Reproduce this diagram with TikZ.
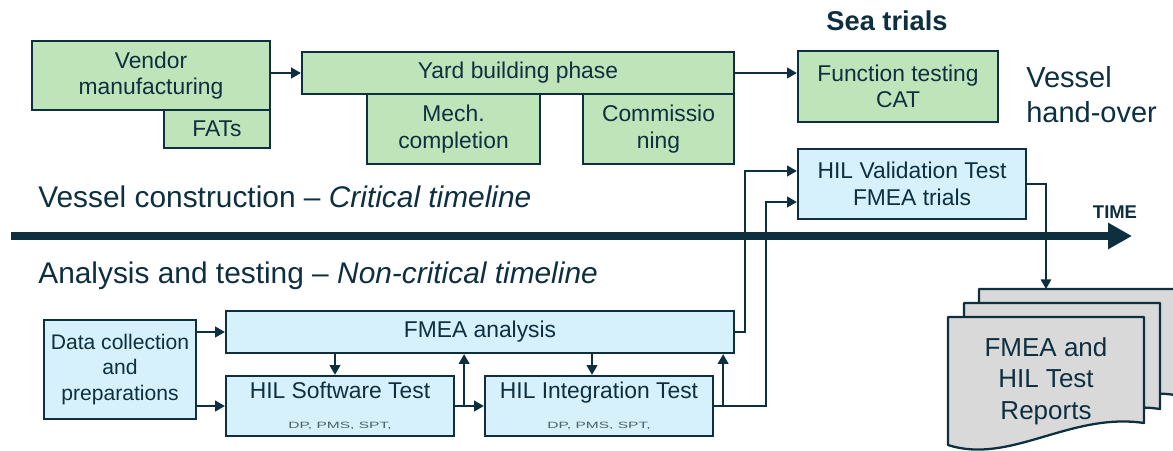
\documentclass[tikz,border=0pt]{standalone}
\usepackage{fontspec}
\setmainfont{Liberation Sans}
\newfontfamily\dpfont[FakeStretch=1.7]{Liberation Sans}
\usepackage{tikz}
\usetikzlibrary{arrows.meta,calc}
\definecolor{navy}{RGB}{13,47,64}
\definecolor{gfill}{RGB}{192,228,186}
\definecolor{bfill}{RGB}{214,240,252}
\definecolor{dfill}{RGB}{217,217,217}
\newcommand\boxtxt{\fontsize{13}{15}\selectfont}
\newcommand\dptxt{\dpfont\fontsize{5.2}{6}\selectfont\color{navy!75}}
\tikzset{%
  gbox/.style={draw=navy,fill=gfill,line width=1.3pt,inner sep=0,align=center,text=navy,font=\boxtxt},
  bbox/.style={gbox,fill=bfill},
  docpage/.style={draw=navy,fill=dfill,line width=1.3pt,line join=round},
  conn/.style={draw=navy,line width=1.1pt,-{Triangle[length=5.5pt,width=6pt]}},
  tline/.style={draw=navy,line width=4.8pt,-{Triangle[length=0.48cm,width=0.5cm]}},
  bigtxt/.style={anchor=base west,inner sep=0,text=navy,font=\fontsize{17}{20}\selectfont},
  headtxt/.style={inner sep=0,text=navy,align=left}
}

\begin{document}
\begin{tikzpicture}[x=0.02cm,y=-0.02cm]
    \useasboundingbox (0,0) rectangle (1173,450);
    \coordinate (tstart) at (11,236);
    \coordinate (tend) at (1132,236);
    \draw[tline] (tstart) -- (tend);
    \path
      (151,75.5) node (vendor)[gbox,minimum width=4.76cm,minimum height=1.38cm]{Vendor\\manufacturing}
      (217,129) node (fats)[gbox,minimum width=2.12cm,minimum height=0.76cm]{FATs}
      (518,73) node (yard)[gbox,minimum width=8.64cm,minimum height=0.84cm]{Yard building phase}
      (453.5,129) node (mech)[gbox,minimum width=3.46cm,minimum height=1.4cm]{Mech.\\completion}
      (658.5,129) node (comm)[gbox,minimum width=3.02cm,minimum height=1.4cm]{Commissio\\ning}
      (898,86.5) node (func)[gbox,minimum width=4cm,minimum height=1.42cm]{Function testing\\CAT}
      (912,184) node (valid)[bbox,minimum width=4.56cm,minimum height=1.4cm]{HIL Validation Test\\FMEA trials}
      (120,369.5) node (data)[bbox,minimum width=3.04cm,minimum height=1.98cm,font=\fontsize{12}{14.5}\selectfont]{Data collection\\and\\preparations}
      (480,332) node (fmea)[bbox,minimum width=10.16cm,minimum height=0.84cm]{FMEA analysis}
      (340,406) node (sw)[bbox,minimum width=4.56cm,minimum height=1.2cm]{HIL Software Test\\[2pt]{\dptxt DP, PMS, SPT,}}
      (599,406) node (int)[bbox,minimum width=4.56cm,minimum height=1.2cm]{HIL Integration Test\\[2pt]{\dptxt DP, PMS, SPT,}};
    \path
      (887,21) node (sea)[headtxt,font=\fontsize{15.5}{18}\selectfont\bfseries]{Sea trials}
      (1026,94.5) node (handover)[headtxt,anchor=west,font=\fontsize{16.5}{20}\selectfont]{Vessel\\hand-over}
      (1115,212) node (time)[headtxt,font=\fontsize{10.5}{12}\selectfont\bfseries]{TIME}
      (38,207) node (crit)[bigtxt]{Vessel construction – \textit{Critical timeline}}
      (38,283) node (noncrit)[bigtxt]{Analysis and testing – \textit{Non-critical timeline}};
    \foreach \dx/\dy in {31/-28,16/-14,0/0}
      \draw[docpage,shift={(\dx,\dy)}] (948,317) -- (1144,317) -- (1144,423)
        .. controls (1070,412) and (1010,465) .. (948,445) -- cycle;
    \path (1046,381) node (reps)[headtxt,align=center,font=\fontsize{14.8}{18}\selectfont]{FMEA and\\HIL Test\\Reports};
    \coordinate (repin) at (1046,289);
    \coordinate (vin1) at ($(valid.west)+(0,-13)$);
    \coordinate (vin2) at ($(valid.west)+(0,18)$);
    \coordinate (j1) at ($(sw.east)+(9,0)$);
    \coordinate (j2) at ($(int.east)+(9,0)$);
    \draw[conn] (vendor.east |- yard.west) -- (yard.west);
    \draw[conn] (yard.east) -- (yard.east -| func.west);
    \draw[conn] (data.east |- fmea.west) -- (fmea.west);
    \draw[conn] (data.east |- sw.west) -- (sw.west);
    \draw[conn] (sw.east) -- (int.west);
    \draw[conn] (j1) -- (j1 |- fmea.south);
    \draw[conn] (int.east) -- (j2) -- (j2 |- fmea.south);
    \draw[conn] ($(fmea.south -| sw.north)+(-5,0)$) -- ($(sw.north)+(-5,0)$);
    \draw[conn] ($(fmea.south -| int.north)+(-7,0)$) -- ($(int.north)+(-7,0)$);
    \draw[conn] (fmea.east) -- ++(10,0) |- (vin1);
    \draw[conn] (int.east) -- ++(52,0) |- (vin2);
    \draw[conn,line width=0.8pt] (valid.east) -| (repin);
\end{tikzpicture}
\end{document}
